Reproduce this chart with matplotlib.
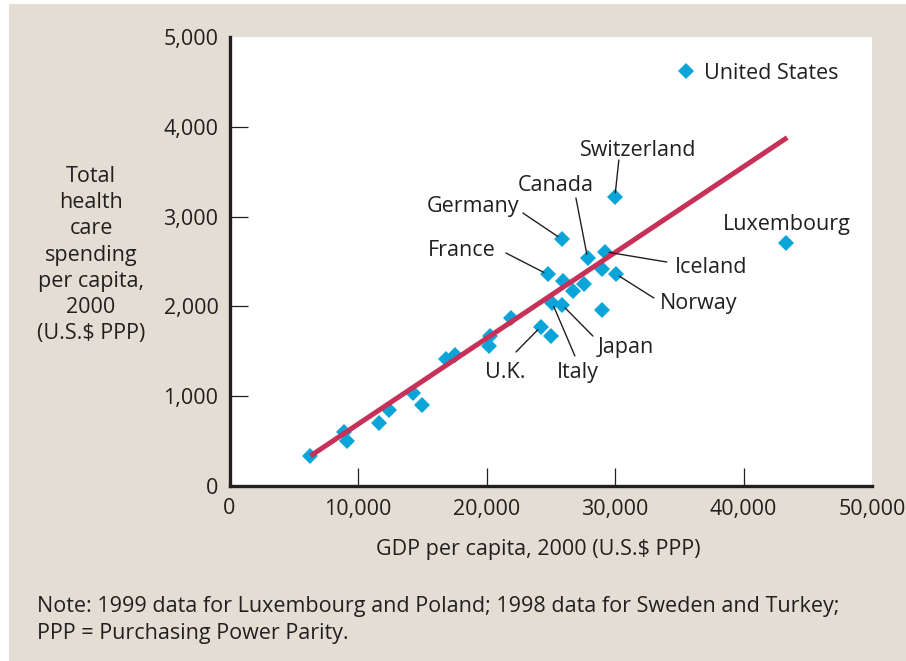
"""Health care spending vs GDP per capita, OECD countries, 2000."""

import matplotlib

matplotlib.use("Agg")
import matplotlib.pyplot as plt
from matplotlib.patches import Rectangle
from matplotlib.transforms import offset_copy

plt.rcParams["font.family"] = ["Open Sans", "DejaVu Sans"]

# GDP per capita and total health spending per capita (U.S.$ PPP)
countries = [
    "", "", "", "", "", "", "", "", "", "", "", "",
    "U.K.", "", "Italy", "Japan", "", "France", "", "", "", "",
    "Norway", "Canada", "Iceland", "Germany", "Switzerland", "Luxembourg", "United States",
]
gdp = [
    6260, 8910, 9140, 11630, 12410, 14280, 14980, 16840, 17540, 20270, 20190, 21900,
    24230, 24990, 25110, 25890, 28950, 24750, 25920, 26700, 27580, 28950,
    30070, 27870, 29210, 25840, 29990, 43290, 35510,
]
spending = [
    334, 601, 501, 702, 846, 1036, 902, 1414, 1459, 1670, 1559, 1871,
    1774, 1674, 2041, 2016, 1960, 2357, 2283, 2171, 2249, 2413,
    2361, 2536, 2609, 2751, 3218, 2706, 4621,
]

# fitted line end points
fit_x = [6300, 43400]
fit_y = [335, 3880]

x_ticks = [0, 10000, 20000, 30000, 40000, 50000]
y_ticks = [0, 1000, 2000, 3000, 4000, 5000]

# label placement: text position, alignment, leader line start (None = no leader)
label_layout = {
    "Switzerland": ((31780, 3753), "center", (30300, 3630)),
    "Canada": ((25400, 3374), "center", (26960, 3207)),
    "Germany": ((18940, 3140), "center", (22830, 3040)),
    "France": ((18090, 2650), "center", (21510, 2595)),
    "Iceland": ((34660, 2461), "left", (34030, 2494)),
    "Norway": ((33490, 2060), "left", (33020, 2094)),
    "Luxembourg": ((43370, 2929), "center", None),
    "Japan": ((28670, 1570), "left", (28280, 1670)),
    "Italy": ((27110, 1281), "center", (26880, 1448)),
    "U.K.": ((21430, 1281), "center", (22290, 1492)),
    "United States": ((36910, 4621), "left", None),
}

BEIGE = "#e3ded3"
BLUE = "#0aa5d8"
RED = "#c73058"
INK = "#231f20"
FS = 15.5

W, H = 906, 661
fig = plt.figure(figsize=(W / 100, H / 100), dpi=100, facecolor="white")
fig.patches.append(Rectangle((9 / W, 0), (W - 9) / W, (H - 4) / H,
                             transform=fig.transFigure, facecolor=BEIGE, edgecolor="none", zorder=-10))

ax = fig.add_axes([229.5 / W, (H - 486) / H, (872 - 229.5) / W, (486 - 37) / H])
ax.set_facecolor("white")
ax.set_xlim(0, 50000)
ax.set_ylim(0, 5000)

for side in ["top", "right"]:
    ax.spines[side].set_visible(False)
for side in ["left", "bottom"]:
    ax.spines[side].set_linewidth(2.4)
    ax.spines[side].set_color(INK)
    ax.spines[side].set_capstyle("projecting")

ax.set_xticks(x_ticks, labels=[f"{v:,}" for v in x_ticks])
ax.set_yticks(y_ticks, labels=[f"{v:,}" for v in y_ticks])
ax.tick_params(direction="in", length=13, width=0.9, color=INK, labelsize=FS, labelcolor=INK)
ax.tick_params(axis="x", pad=9)
ax.tick_params(axis="y", pad=8)
# no tick marks at the far ends of the axes
for axis in (ax.xaxis, ax.yaxis):
    ticks = axis.get_major_ticks()
    ticks[-1].tick1line.set_visible(False)
    ticks[0].tick1line.set_visible(False)

ax.plot(fit_x, fit_y, color=RED, linewidth=3.6, solid_capstyle="butt", zorder=3)
ax.plot(gdp, spending, linestyle="none", marker="D", markersize=8, color=BLUE,
        markeredgewidth=0, zorder=2, clip_on=False)

# nudge labels down a touch so the glyphs sit where the original's do
label_trans = offset_copy(ax.transData, fig=fig, x=0, y=-2, units="dots")
for name, x, y in zip(countries, gdp, spending):
    if not name:
        continue
    (tx, ty), ha, start = label_layout[name]
    ax.text(tx, ty, name, ha=ha, va="center", fontsize=FS, color=INK, zorder=5, transform=label_trans)
    if start is not None:
        ax.annotate("", xy=(x, y), xytext=start,
                    arrowprops=dict(arrowstyle="-", color=INK, linewidth=1.0, shrinkA=0, shrinkB=3))

fig.text(91 / W, 1 - 255 / H,
         "Total\nhealth\ncare\nspending\nper capita,\n2000\n(U.S.$ PPP)",
         ha="center", va="center", fontsize=FS, color=INK, linespacing=1.32)
fig.text(538 / W, 1 - 550 / H, "GDP per capita, 2000 (U.S.$ PPP)",
         ha="center", va="center", fontsize=FS, color=INK)
fig.text(37 / W, 1 - 620 / H,
         "Note: 1999 data for Luxembourg and Poland; 1998 data for Sweden and Turkey;\n"
         "PPP = Purchasing Power Parity.",
         ha="left", va="center", fontsize=FS, color=INK, linespacing=1.32)

fig.savefig("out.png", dpi=100, facecolor="white")
